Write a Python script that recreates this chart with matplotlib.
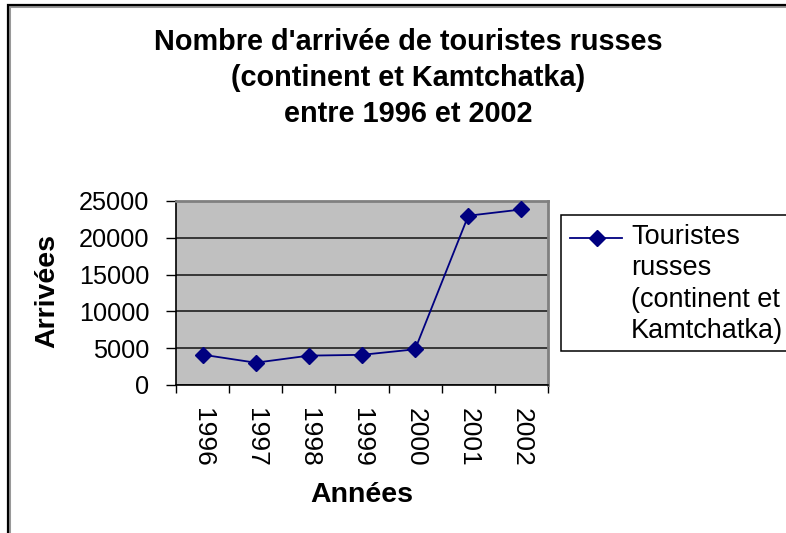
import numpy as np
import matplotlib
matplotlib.use('Agg')
from matplotlib import pyplot as plt
from matplotlib.patches import Rectangle
from matplotlib.lines import Line2D

plt.rcParams['font.family'] = ['Liberation Sans', 'DejaVu Sans']

# donnees
annees = ['1996', '1997', '1998', '1999', '2000', '2001', '2002']
arrivees = [4120, 3030, 3990, 4100, 4850, 23000, 23850]
y_ticks = [0, 5000, 10000, 15000, 20000, 25000]
titre = "Nombre d'arrivée de touristes russes\n(continent et Kamtchatka)\nentre 1996 et 2002"
legende = "Touristes\nrusses\n(continent et\nKamtchatka)"

W, H = 786, 533
fig = plt.figure(figsize=(W / 100, H / 100), dpi=100)
fig.patch.set_facecolor('white')

# cadre de la zone de graphique (coupe a droite et en bas)
fig.add_artist(Rectangle((8.5 / W, -0.1), 1.2, 1.1 - 6.5 / H, transform=fig.transFigure,
                         fill=False, edgecolor='#999999', linewidth=2.2))
fig.add_artist(Rectangle((7.5 / W, -0.1), 1.2, 1.1 - 5.5 / H, transform=fig.transFigure,
                         fill=False, edgecolor='black', linewidth=1.6))

left, right, top, bottom = 176, 548, 201, 385
ax = fig.add_axes([left / W, 1 - bottom / H, (right - left) / W, (bottom - top) / H])
ax.set_facecolor('#c0c0c0')

x = np.arange(len(annees))
ax.plot(x, arrivees, color='#000080', linewidth=1.3, marker='D', markersize=8,
        markerfacecolor='#000080', markeredgecolor='#000080', zorder=3)

ax.set_xlim(-0.5, len(annees) - 0.5)
ax.set_ylim(0, 25000)
ax.set_yticks(y_ticks)
ax.set_yticklabels([str(v) for v in y_ticks], fontsize=18.2)
ax.grid(axis='y', color='#202020', linewidth=1.2)
ax.set_axisbelow(True)

# graduations entre les categories, etiquettes au centre
ax.set_xticks(np.arange(len(annees) + 1) - 0.5)
ax.set_xticklabels([])
ax.set_xticks(x, minor=True)
ax.set_xticklabels(annees, minor=True, rotation=270, fontsize=19, va='top', ha='center')
ax.tick_params(axis='x', which='minor', length=0, pad=16.5)
ax.tick_params(axis='x', which='major', length=6, width=1, color='black', direction='out')
ax.tick_params(axis='y', length=7, width=1, color='black', direction='out', pad=12)

for side in ['top', 'right']:
    ax.spines[side].set_color('#808080')
    ax.spines[side].set_linewidth(2)
ax.spines['left'].set_color('black')
ax.spines['left'].set_linewidth(1.2)
ax.spines['bottom'].set_color('black')
ax.spines['bottom'].set_linewidth(1.2)

ax.set_ylabel('Arrivées', fontsize=20.5, fontweight='bold')
ax.yaxis.set_label_coords((60 - left) / (right - left), 0.51)
ax.set_xlabel('Années', fontsize=20.5, fontweight='bold')
ax.xaxis.set_label_coords(0.5, -(482 - bottom) / (bottom - top))

fig.text(408 / W, 1 - 78 / H, titre, ha='center', va='center', fontsize=20.8,
         fontweight='bold', linespacing=1.36)

# legende
fig.add_artist(Rectangle((561 / W, 1 - 351 / H), 0.4, (351 - 215) / H, transform=fig.transFigure,
                         facecolor='white', edgecolor='black', linewidth=1.1))
fig.add_artist(Line2D([570 / W, 622 / W], [1 - 238 / H, 1 - 238 / H], transform=fig.transFigure,
                      color='#000080', linewidth=1.3))
fig.add_artist(Line2D([597 / W], [1 - 238 / H], transform=fig.transFigure,
                      color='#000080', marker='D', markersize=8, linestyle='none'))
fig.text(631 / W, 1 - 224 / H, legende, ha='left', va='top', fontsize=19.5, linespacing=1.27)

fig.savefig('out.png', dpi=100)
